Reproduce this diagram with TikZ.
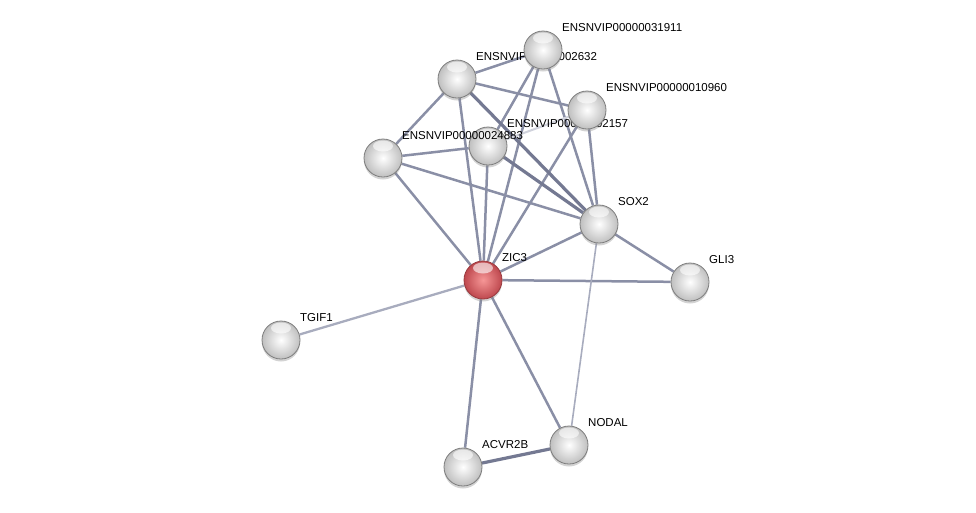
\documentclass[tikz,border=0pt]{standalone}
\usepackage{fontspec}
\setmainfont{Liberation Sans}
\usetikzlibrary{shadows}

\pgfdeclarelayer{edges}
\pgfsetlayers{edges,main}

\definecolor{edgegray}{RGB}{138,143,166}
\definecolor{edgedark}{RGB}{116,121,146}
\definecolor{edgelight}{RGB}{168,172,190}
\definecolor{edgefaint}{RGB}{208,210,220}
\definecolor{ballrim}{RGB}{125,125,125}
\definecolor{zicin}{RGB}{246,150,150}
\definecolor{zicout}{RGB}{190,72,78}

\tikzset{
  protein/.style={circle, minimum size=38pt, inner sep=0pt,
    draw=ballrim, line width=0.8pt, inner color=white, outer color=gray!50,
    drop shadow={shadow xshift=0pt, shadow yshift=-2.5pt, opacity=0.35},
    path picture={\fill[white, opacity=0.6]
      ([yshift=-7pt]path picture bounding box.north) ellipse [x radius=10pt, y radius=5.5pt];}},
  query/.style={protein, inner color=zicin, outer color=zicout, draw=zicout!80!black},
  tag/.style={anchor=west, inner sep=0pt, font=\fontsize{11.5}{13}\selectfont},
  link/.style={edgegray, line width=2.5pt},
  strong/.style={edgedark, line width=3.2pt},
  weak/.style={edgelight, line width=1.6pt},
  faint/.style={edgefaint, line width=2pt},
}

\begin{document}
\begin{tikzpicture}[x=1pt, y=-1pt]
  \useasboundingbox (0,0) rectangle (976,512);
  % Proteins, each followed by its name
  \foreach \n/\x/\y/\t in {p02632/457/79/ENSNVIP00000002632,
      p02157/488/146/ENSNVIP00000002157, p24883/383/158/ENSNVIP00000024883,
      p31911/543/50/ENSNVIP00000031911, p10960/587/110/ENSNVIP00000010960,
      sox2/599/224/SOX2, gli3/690/282/GLI3, tgif1/281/340/TGIF1,
      nodal/569/445/NODAL, acvr2b/463/467/ACVR2B} {
    \node[protein] (\n) at (\x,\y) {};
    \node[tag] (\n-tag) at ([shift={(19,-22)}]\n.center) {\t};
  }
  \node[query] (zic3) at (483,280) {};
  \node[tag] (zic3-tag) at ([shift={(19,-22)}]zic3.center) {ZIC3};
  % Interactions
  \begin{pgfonlayer}{edges}
    \foreach \a/\b in {p02632/p31911, p02632/p10960, p02632/p24883, p02632/zic3,
        p31911/p02157, p31911/zic3, p31911/sox2, p10960/zic3, p10960/sox2,
        p24883/p02157, p24883/zic3, p24883/sox2, p02157/zic3, zic3/sox2,
        zic3/gli3, sox2/gli3, zic3/nodal, zic3/acvr2b} {
      \draw[link] (\a) -- (\b);
    }
    \draw[strong] (p02632) -- (sox2);
    \draw[strong] (p02157) -- (sox2);
    \draw[strong] (acvr2b) -- (nodal);
    \draw[weak] (sox2) -- (nodal);
    \draw[faint] (p02157) -- (p10960);
    \draw[edgelight, line width=2.3pt] (zic3) -- (tgif1);
  \end{pgfonlayer}
\end{tikzpicture}
\end{document}
